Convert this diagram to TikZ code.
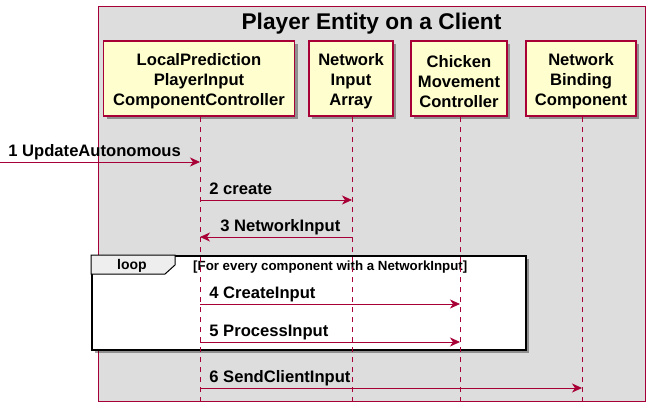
\documentclass[tikz,border=0pt]{standalone}
\usepackage{fontspec}
\setmainfont{Liberation Sans}
\usetikzlibrary{arrows.meta,positioning,shadows,calc}
\definecolor{PUBorder}{HTML}{A80036}
\definecolor{PUFill}{HTML}{FEFECE}
\definecolor{PUBack}{HTML}{DDDDDD}
\definecolor{PUTab}{HTML}{EEEEEE}

\begin{document}
\begin{tikzpicture}[
    x=1pt, y=-1pt,
    participant/.style={draw=PUBorder, fill=PUFill, line width=1.2pt,
        minimum height=75pt, inner sep=0pt,
        drop shadow={shadow xshift=3pt, shadow yshift=-3pt, opacity=0.35, fill=black}},
    ptext/.style={align=center, inner sep=0pt, font=\fontsize{16.6}{20}\selectfont\bfseries},
    lifeline/.style={PUBorder, line width=0.8pt, dash pattern=on 5pt off 5pt},
    msg/.style={PUBorder, line width=0.8pt, -{Stealth[length=10pt, width=9pt, inset=3pt]}},
    msglabel/.style={text=black, font=\fontsize{16.6}{18}\selectfont\bfseries, anchor=base west, inner sep=0pt}
 ]
\useasboundingbox (0,0) rectangle (650,415);

% group box
\node[draw=PUBorder, fill=PUBack, line width=1pt, anchor=north west,
      minimum width=547pt, minimum height=395pt] (entity) at (98,6) {};
\node[font=\fontsize{22.7}{24}\selectfont\bfseries] (title) at (371.5,23.5) {Player Entity on a Client};

% loop frame
\node[draw=black, fill=white, line width=2pt, minimum width=434pt, minimum height=94pt,
      drop shadow={shadow xshift=3pt, shadow yshift=-3pt, opacity=0.35, fill=black}] (loop) at (309,303) {};
\draw[fill=PUTab, line width=1pt] (loop.north west) -- ++(84,0) -- ++(0,10) -- ++(-10,9) -- ($(loop.north west)+(0,19)$) -- cycle;
\node[font=\fontsize{14}{16}\selectfont\bfseries] (looptag) at (132,266) {loop};
\node[font=\fontsize{13.3}{14}\selectfont\bfseries, anchor=base west, inner sep=0pt] (guard) at (193,270) {[For every component with a NetworkInput]};

% participants
\foreach \p/\xx/\w/\txt in {lpc/199/191/{LocalPrediction\\PlayerInput\\ComponentController},
                          nia/351/84/{Network\\Input\\Array},
                          cmc/459/96/{Chicken\\Movement\\Controller},
                          nbc/581/110/{Network\\Binding\\Component}} {
    \node[participant, minimum width=\w pt] (\p) at (\xx,78.5) {};
    \node[ptext] (\p-name) at ([yshift=-3pt]\p.center) {\txt};
}

\coordinate (bottom) at (0,406);
\foreach \p/\xx in {lpc/200,nia/352,cmc/460,nbc/582} {
    \coordinate (\p-top) at (\xx,117);
    \draw[lifeline] (\p-top) -- (\p-top |- bottom);
}

% messages
\coordinate (m1) at (0,162);
\coordinate (m2) at (0,200);
\coordinate (m3) at (0,237);
\coordinate (m4) at (0,304);
\coordinate (m5) at (0,342);
\coordinate (m6) at (0,388);

\draw[msg] (m1) -- (lpc-top |- m1) node[msglabel, at start, xshift=8pt, yshift=6pt] {1 UpdateAutonomous};
\draw[msg] (lpc-top |- m2) -- (nia-top |- m2) node[msglabel, at start, xshift=9pt, yshift=6pt] {2 create};
\draw[msg] (nia-top |- m3) -- (lpc-top |- m3) node[msglabel, at end, xshift=20pt, yshift=6pt] {3 NetworkInput};
\draw[msg] (lpc-top |- m4) -- (cmc-top |- m4) node[msglabel, at start, xshift=9pt, yshift=6pt] {4 CreateInput};
\draw[msg] (lpc-top |- m5) -- (cmc-top |- m5) node[msglabel, at start, xshift=9pt, yshift=6pt] {5 ProcessInput};
\draw[msg] (lpc-top |- m6) -- (nbc-top |- m6) node[msglabel, at start, xshift=9pt, yshift=6pt] {6 SendClientInput};

\end{tikzpicture}
\end{document}
